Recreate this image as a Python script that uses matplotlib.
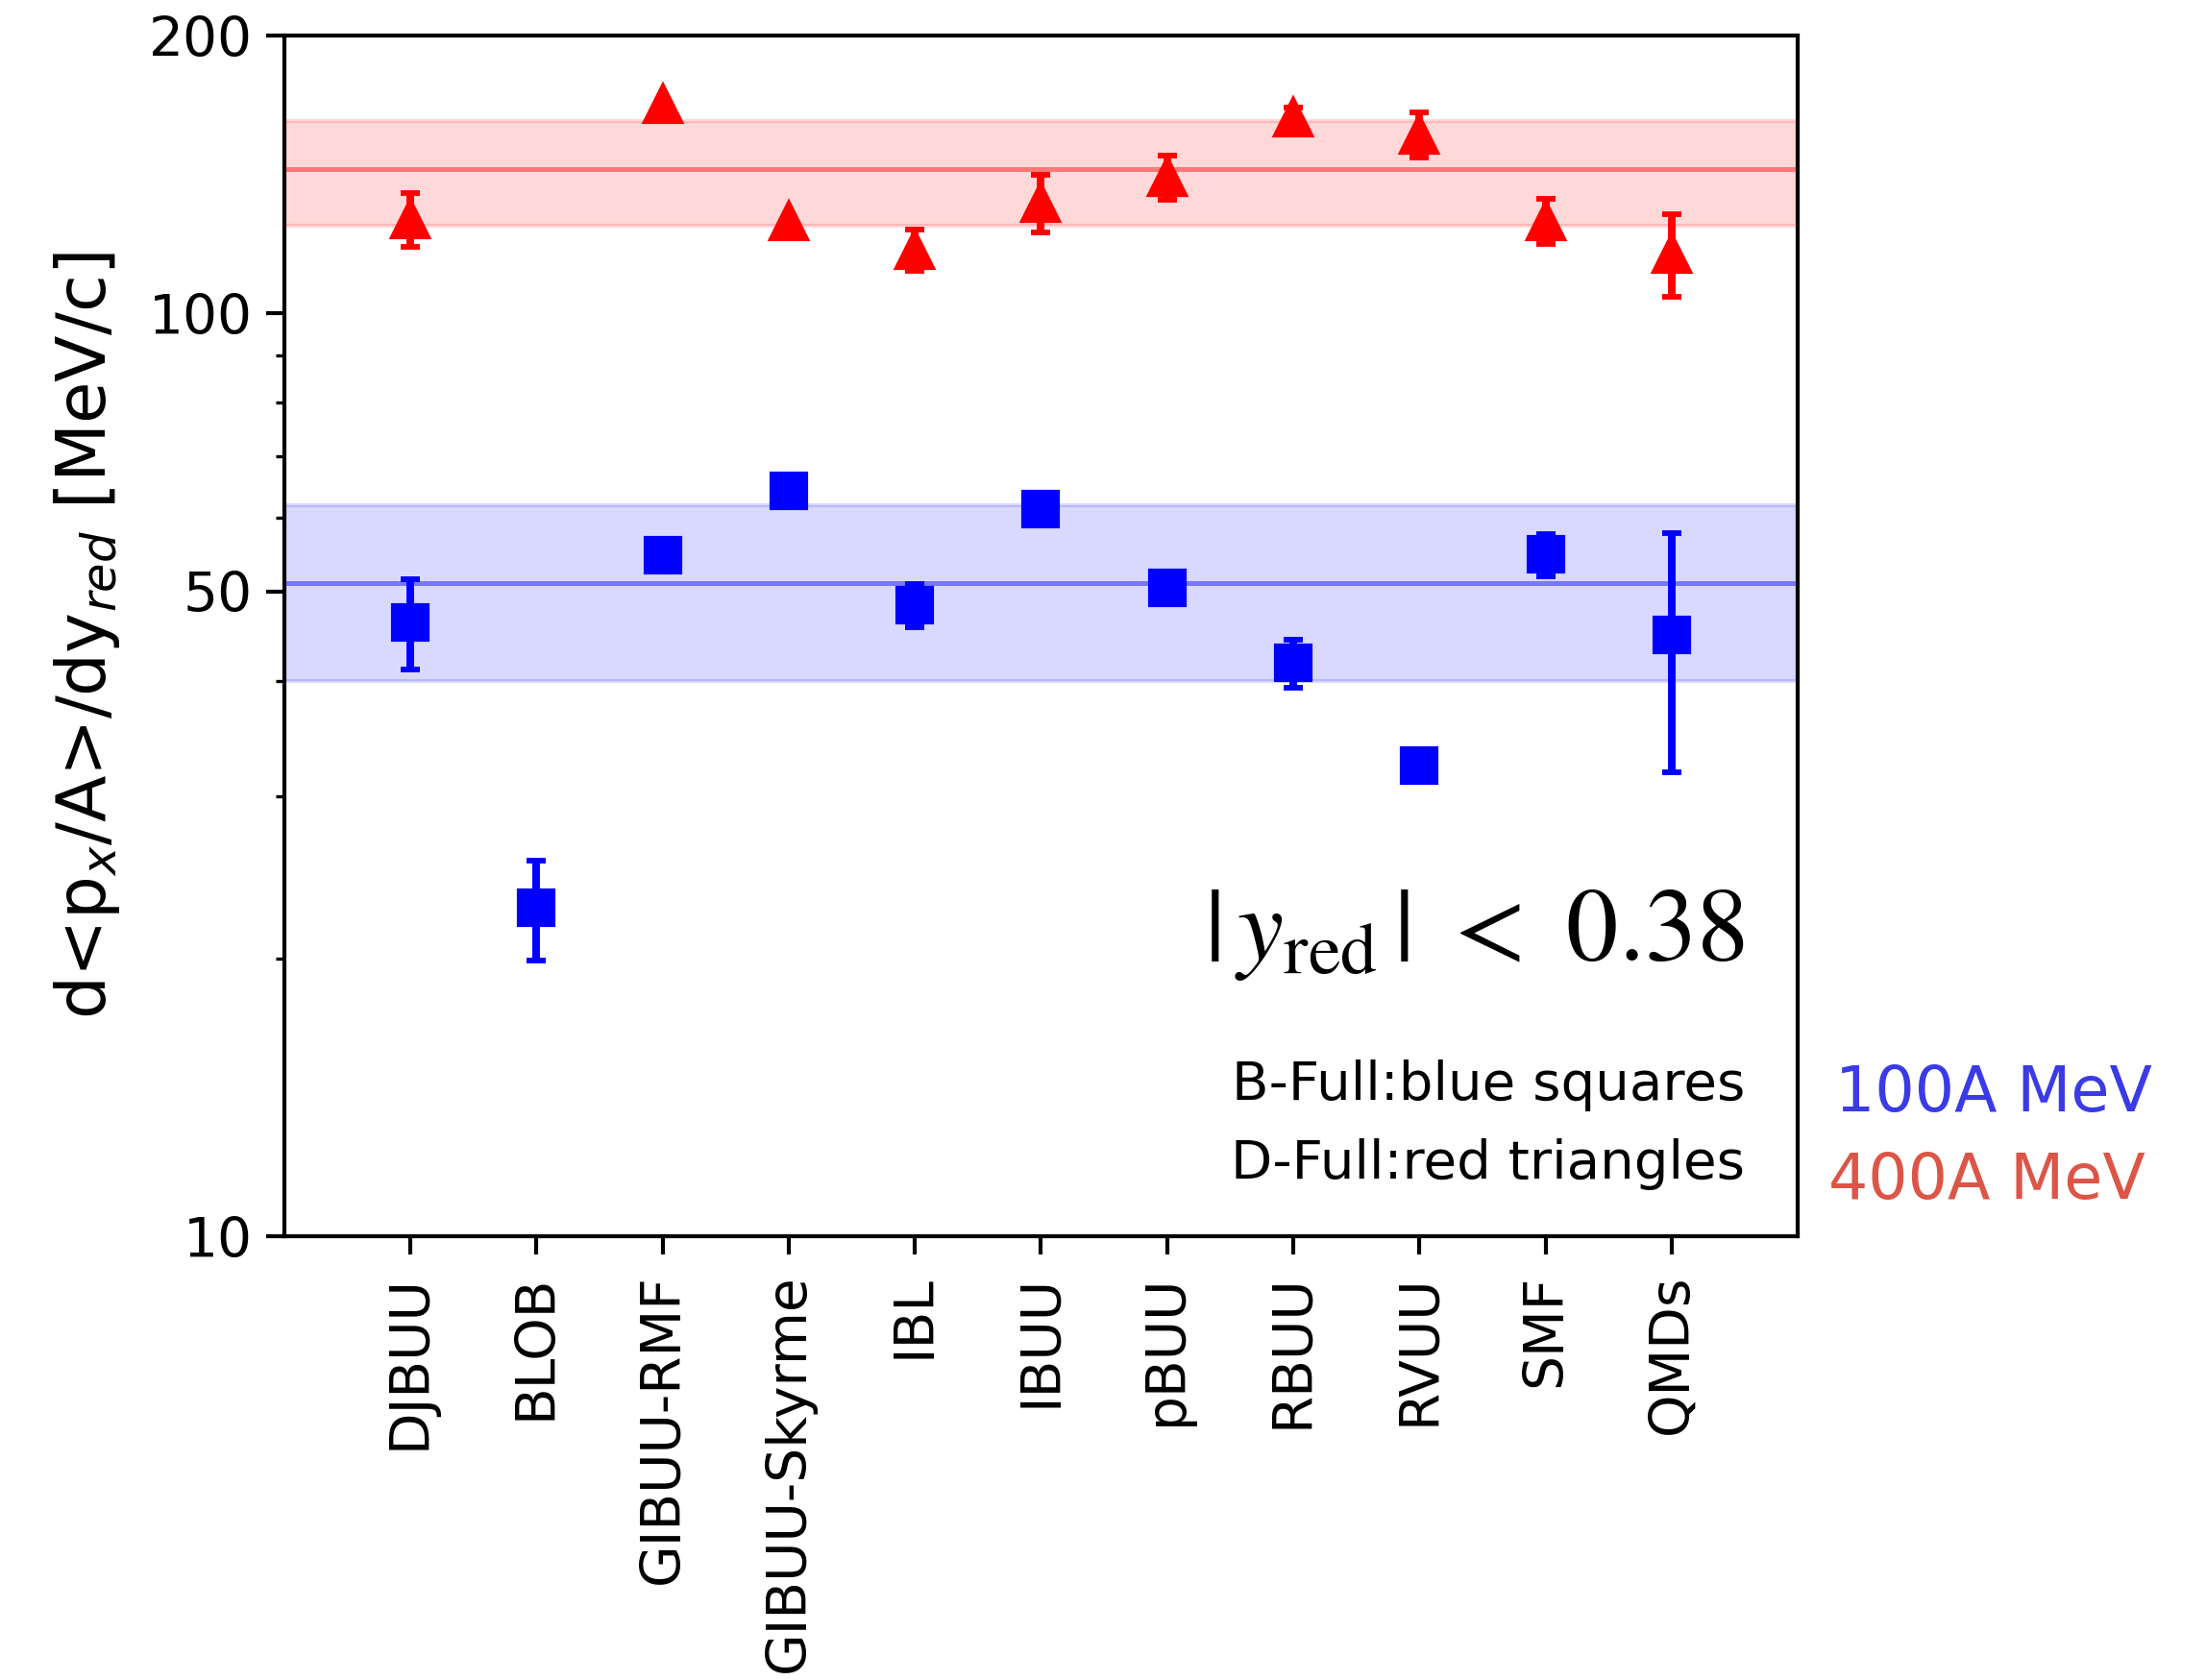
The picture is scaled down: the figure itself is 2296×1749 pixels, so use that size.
import numpy as np
import matplotlib
matplotlib.use('Agg')
import matplotlib.pyplot as plt
from matplotlib.ticker import NullFormatter

# transport models compared
modelos = ['DJBUU', 'BLOB', 'GIBUU-RMF', 'GIBUU-Skyrme', 'IBL', 'IBUU',
           'pBUU', 'RBUU', 'RVUU', 'SMF', 'QMDs']

# slope d<px/A>/dy_red [MeV/c], 100A MeV (B-Full)
pendiente_100 = [46.3, 22.7, 54.7, 64.2, 48.3, 61.4, 50.4, 41.8, 32.4, 54.8, 44.8]
error_100 = [5.2, 2.8, np.nan, np.nan, 2.6, np.nan, np.nan, 2.5, np.nan, 2.9, 13.0]

# slope at 400A MeV (D-Full), no BLOB entry
pendiente_400 = [126.5, np.nan, 168.8, 126.0, 117.2, 131.9, 140.6, 163.0, 156.3, 126.0, 116.2]
error_400 = [8.5, np.nan, np.nan, np.nan, 6.1, 9.5, 7.7, 4.2, 8.7, 7.0, 12.0]

# mean and spread of the models
media_100, ancho_100 = 51.0, 11.0
media_400, ancho_400 = 143.2, 18.6

fig = plt.figure(figsize=(2296 / 300, 1749 / 300), dpi=300)
ax = fig.add_axes([0.1289, 0.2641, 0.6860, 0.7147])

x = np.arange(len(modelos))

ax.axhspan(media_100 - ancho_100, media_100 + ancho_100, color='blue', alpha=0.15, lw=1)
ax.axhline(media_100, color='blue', alpha=0.45, lw=1.2)
ax.axhspan(media_400 - ancho_400, media_400 + ancho_400, color='red', alpha=0.15, lw=1)
ax.axhline(media_400, color='red', alpha=0.45, lw=1.2)

ax.errorbar(x, pendiente_100, yerr=error_100, fmt='s', color='blue', ms=8.6,
            elinewidth=1.9, capsize=2.5, capthick=1.4)
ax.errorbar(x, pendiente_400, yerr=error_400, fmt='^', color='red', ms=9.2,
            elinewidth=1.9, capsize=2.5, capthick=1.4)

ax.set_yscale('log')
ax.set_ylim(10, 200)
ax.set_xlim(-1, 11)
ax.set_yticks([10, 50, 100, 200])
ax.set_yticklabels(['10', '50', '100', '200'])
ax.yaxis.set_minor_formatter(NullFormatter())
ax.set_xticks(x)
ax.set_xticklabels(modelos, rotation=90)

ax.tick_params(which='major', length=4.5, width=1.0, labelsize=13.6)
ax.tick_params(axis='x', which='major', pad=5)
ax.tick_params(which='minor', length=2.2, width=0.8)
for s in ax.spines.values():
    s.set_linewidth(1.0)

ax.set_ylabel(r'd<p$_x$/A>/dy$_{red}$ [MeV/c]', fontsize=17)
ax.yaxis.set_label_coords(-0.107, 0.5)

ax.text(0.965, 0.2304, r'$|\,y_{\rm red}\,|\ <\ 0.38$', transform=ax.transAxes,
        ha='right', va='baseline', fontsize=26, math_fontfamily='stix')
ax.text(0.965, 0.1136, 'B-Full:blue squares', transform=ax.transAxes,
        ha='right', va='baseline', fontsize=13.5)
ax.text(0.965, 0.048, 'D-Full:red triangles', transform=ax.transAxes,
        ha='right', va='baseline', fontsize=13.5)

fig.text(0.832, 0.3385, '100A MeV', color='#3a3ae6', fontsize=15.6, va='baseline')
fig.text(0.829, 0.2865, '400A MeV', color='#dc5546', fontsize=15.6, va='baseline')

fig.savefig('out.png', dpi=300)
